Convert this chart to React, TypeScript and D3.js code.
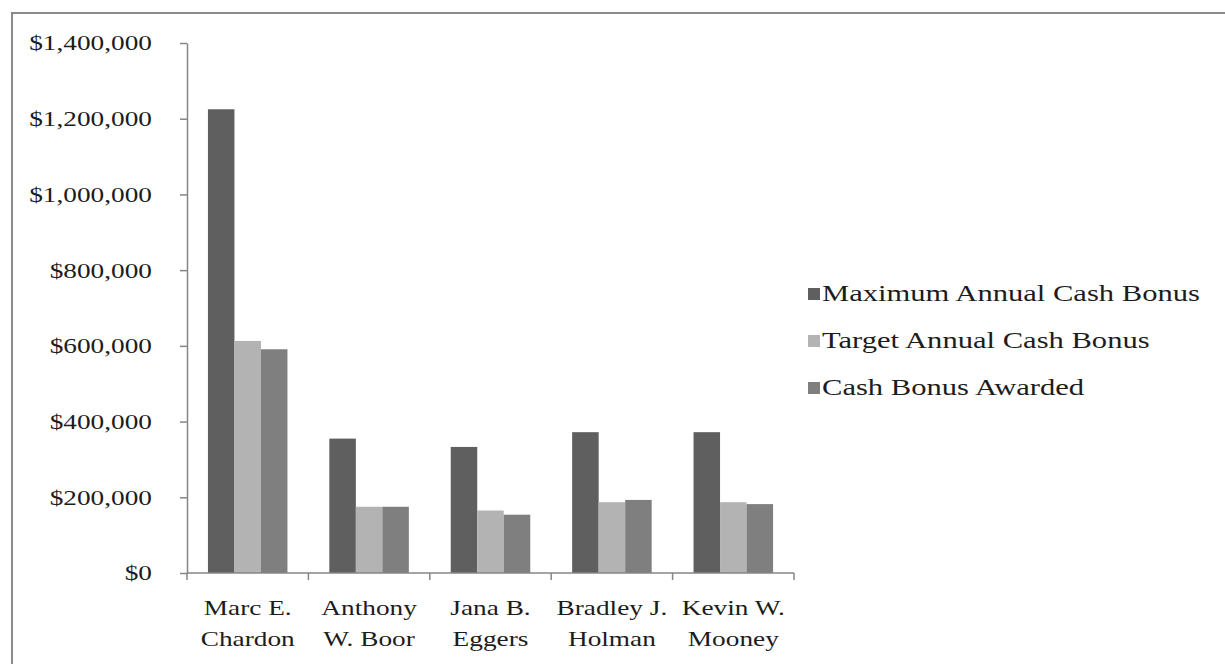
import { useEffect, useRef } from 'react'
import * as d3 from 'd3'

// executives (two-line labels)
const names = ['Marc E.|Chardon', 'Anthony|W. Boor', 'Jana B.|Eggers', 'Bradley J.|Holman', 'Kevin W.|Mooney']
const seriesNames = ['Maximum Annual Cash Bonus', 'Target Annual Cash Bonus', 'Cash Bonus Awarded']
const maxBonus = [1225000, 355000, 333000, 372000, 372000]
const targetBonus = [613000, 175000, 165000, 187000, 187000]
const awardedBonus = [591000, 175000, 154000, 193000, 182000]
const yTicks = [0, 200000, 400000, 600000, 800000, 1000000, 1200000, 1400000]

const colors = ['#5f5f5f', '#b3b3b3', '#7f7f7f']
const W = 1225
const H = 664
const STRETCH = 1.3

export default function App() {
  const svgRef = useRef<SVGSVGElement>(null)

  useEffect(() => {
    if (!svgRef.current) return
    const svg = d3.select(svgRef.current)
    svg.selectAll('*').remove()

    const left = 187
    const right = 794
    const top = 43
    const bottom = 573
    const font = "'Liberation Serif', 'Times New Roman', serif"
    const axisColor = '#868686'

    // outer frame
    svg.append('rect')
      .attr('x', 12).attr('y', 13)
      .attr('width', W + 100).attr('height', H + 100)
      .attr('fill', '#fff')
      .attr('stroke', '#8a8a8a')
      .attr('stroke-width', 2)

    const values = [maxBonus, targetBonus, awardedBonus]

    const x0 = d3.scaleBand<string>().domain(names).range([left, right]).padding(0)
    const x1 = d3.scaleBand<number>()
      .domain([0, 1, 2])
      .range([0, x0.bandwidth()])
      .paddingInner(0)
      .paddingOuter(0.79)
    const y = d3.scaleLinear().domain([0, 1400000]).range([bottom, top])

    // bars
    names.forEach((n, i) => {
      values.forEach((vals, s) => {
        svg.append('rect')
          .attr('x', x0(n)! + x1(s)!)
          .attr('y', y(vals[i]))
          .attr('width', x1.bandwidth())
          .attr('height', y(0) - y(vals[i]))
          .attr('fill', colors[s])
      })
    })

    // y axis
    const yAxis = svg.append('g')
      .attr('transform', `translate(${left},0)`)
      .call(
        d3.axisLeft(y)
          .tickValues(yTicks)
          .tickSize(7)
          .tickSizeOuter(0)
          .tickFormat(d => '$' + d3.format(',')(d as number))
      )
    yAxis.select('.domain').attr('stroke', axisColor).attr('stroke-width', 1.5)
    yAxis.selectAll('.tick line').attr('stroke', axisColor).attr('stroke-width', 1.5)
    yAxis.selectAll('.tick text')
      .attr('x', 0)
      .attr('dy', '0.33em')
      .attr('transform', `translate(-35,0) scale(${STRETCH},1)`)
      .attr('font-family', font)
      .attr('font-size', 21)
      .attr('fill', '#1c1c1c')

    // x axis (ticks at category boundaries)
    svg.append('line')
      .attr('x1', left).attr('x2', right)
      .attr('y1', bottom).attr('y2', bottom)
      .attr('stroke', axisColor).attr('stroke-width', 1.5)
    const bounds = names.map(n => x0(n)!).concat([right])
    svg.selectAll('.xtick')
      .data(bounds)
      .enter()
      .append('line')
      .attr('x1', d => d).attr('x2', d => d)
      .attr('y1', bottom).attr('y2', bottom + 7)
      .attr('stroke', axisColor).attr('stroke-width', 1.5)

    names.forEach(n => {
      const cx = x0(n)! + x0.bandwidth() / 2
      n.split('|').forEach((line, li) => {
        svg.append('g')
          .attr('transform', `translate(${cx},${615 + li * 31}) scale(${STRETCH},1)`)
          .append('text')
          .attr('text-anchor', 'middle')
          .attr('font-family', font)
          .attr('font-size', 21)
          .attr('fill', '#1c1c1c')
          .text(line)
      })
    })

    // legend
    seriesNames.forEach((s, i) => {
      const cy = 294 + i * 47
      svg.append('rect')
        .attr('x', 808).attr('y', cy - 6)
        .attr('width', 12).attr('height', 12)
        .attr('fill', colors[i])
      svg.append('g')
        .attr('transform', `translate(822,${cy + 7}) scale(1.33,1)`)
        .append('text')
        .attr('font-family', font)
        .attr('font-size', 23)
        .attr('fill', '#1c1c1c')
        .text(s)
    })
  }, [])

  return (
    <svg
      ref={svgRef}
      width={W}
      height={H}
      style={{ position: 'absolute', left: 0, top: 0, background: '#fff' }}
    />
  )
}
